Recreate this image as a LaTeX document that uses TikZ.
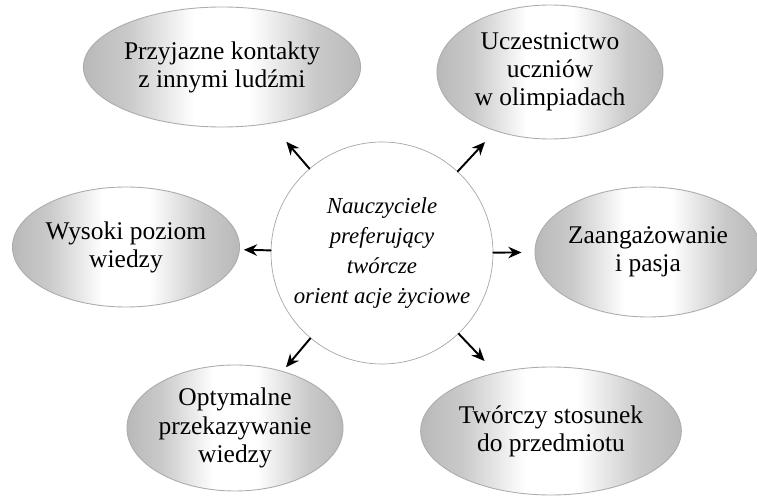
\documentclass[tikz,border=0pt]{standalone}
\usepackage{fontspec}
\setmainfont{Liberation Serif}
\usetikzlibrary{shapes.geometric,arrows.meta}

\pgfdeclarehorizontalshading{bubbleshade}{100bp}{%
  color(0bp)=(gray!55); color(25bp)=(gray!55); color(33bp)=(gray!42);
  color(45bp)=(white); color(55bp)=(white); color(67bp)=(gray!42);
  color(75bp)=(gray!55); color(100bp)=(gray!55)}

\begin{document}
\begin{tikzpicture}[line cap=round]
  % Styles and colors
  \tikzset{
    bubble/.style={ellipse, draw=gray!65, line width=0.5pt, shading=bubbleshade,
      align=center, inner sep=0pt, font=\fontsize{14.5}{16}\selectfont},
    hub/.style={circle, draw=gray!70, line width=0.4pt, fill=white,
      minimum size=4.44cm, inner sep=0pt, align=center,
      font=\fontsize{13}{17}\selectfont\itshape},
    arr/.style={-{Stealth[length=7.5pt,width=6.5pt]}, line width=1.1pt}
  }
  \useasboundingbox (0,0) rectangle (15.14,10.04);

  % Central circle
  \node[hub] (c) at (7.64,4.98) {Nauczyciele\\ preferujący\\ twórcze\\ orient acje życiowe};

  % Outer ellipses
  \node[bubble, minimum width=4.32cm, minimum height=2.4cm] (e1) at (4.44,8.70)
    {Przyjazne kontakty\\ z innymi ludźmi};
  \node[bubble, minimum width=4.52cm, minimum height=2.68cm] (e2) at (11.0,8.60)
    {Uczestnictwo\\ uczniów\\ w olimpiadach};
  \node[bubble, minimum width=4.52cm, minimum height=2.4cm] (e3) at (2.52,5.10)
    {Wysoki poziom\\ wiedzy};
  \node[bubble, minimum width=4.48cm, minimum height=2.6cm] (e4) at (12.96,5.00)
    {Zaangażowanie\\ i pasja};
  \node[bubble, minimum width=3.8cm, minimum height=2.52cm] (e5) at (4.70,1.48)
    {Optymalne\\ przekazywanie\\ wiedzy};
  \node[bubble, minimum width=4.36cm, minimum height=2.56cm] (e6) at (11.02,1.42)
    {Twórczy stosunek\\ do przedmiotu};

  % Arrows
  \draw[arr, shorten >=0.48cm] (c) -- (e1);
  \draw[arr, shorten >=0.30cm] (c) -- (e2);
  \draw[arr, shorten >=0.08cm] (c) -- (e3);
  \draw[arr, shorten >=0.26cm] (c) -- (e4);
  \draw[arr, shorten >=0.10cm] (c) -- (e5);
  \draw[arr, shorten >=0.32cm] (c) -- (e6);
\end{tikzpicture}
\end{document}
